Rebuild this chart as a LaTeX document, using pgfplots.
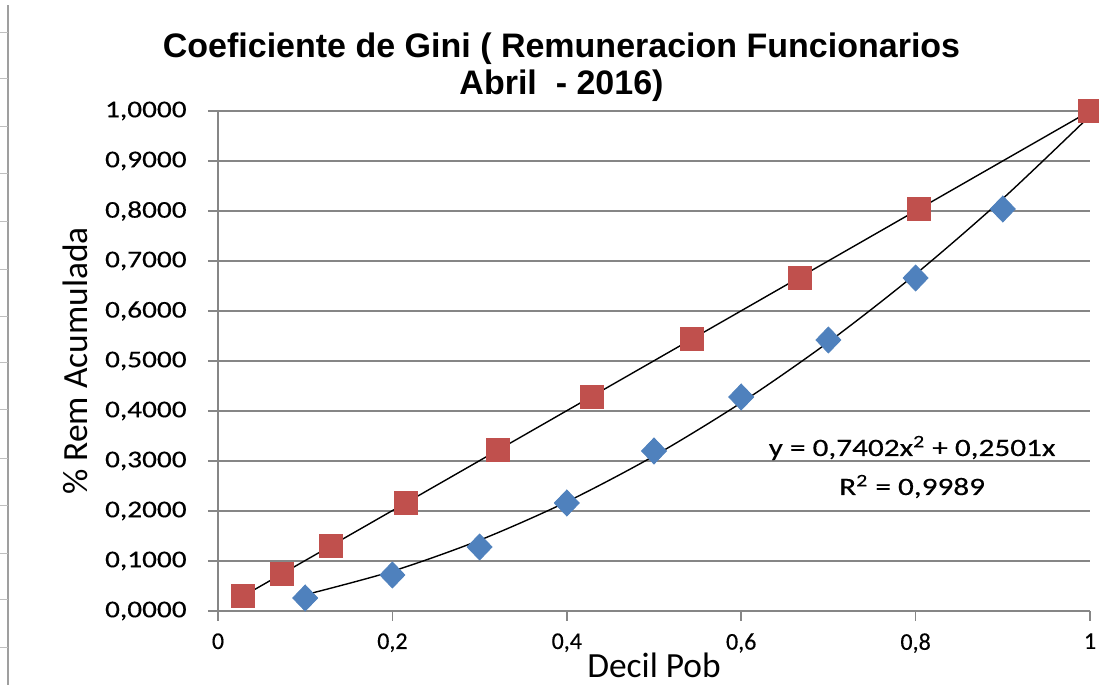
\documentclass[border=0pt]{standalone}
\usepackage{pgfplots}
\pgfplotsset{compat=1.18}
\usepackage{fontspec}
\setmainfont{Carlito}
\newfontfamily\titlefont{Liberation Sans}
\newfontfamily\ytfont{Carlito}[FakeStretch=1.22, FakeBold=0.4]
\newfontfamily\xtfont{Carlito}[FakeBold=0.4]
\newfontfamily\eqfont{Carlito}[FakeStretch=1.25, FakeBold=0.3]
\definecolor{exred}{HTML}{C0504D}
\definecolor{exblue}{HTML}{4F81BD}
\definecolor{gridgray}{HTML}{868686}
\begin{document}
\begin{tikzpicture}
\useasboundingbox (0,0) rectangle (549.5pt,342.5pt);
\fill[white] (0,0) rectangle (549.5pt,342.5pt);
\draw[gray!75, line width=0.8pt] (4pt,0) -- (4pt,340pt);
\foreach \yy in {326,303,279,255.5,231.5,207.5,184,161,137.5,113,89.5,65.5,42.5,18.5}
  \draw[gray!50, line width=0.5pt] (0,\yy pt) -- (4pt,\yy pt);
\begin{axis}[
  at={(109pt,37pt)}, anchor=south west,
  scale only axis, width=436pt, height=250pt,
  xmin=0, xmax=1, ymin=0, ymax=1,
  clip=false,
  axis x line*=bottom, axis y line*=left,
  axis line style={gridgray, line width=0.75pt, -},
  ymajorgrids, grid style={gridgray, line width=0.75pt},
  xtick={0,0.2,0.4,0.6,0.8,1},
  ytick={0,0.1,0.2,0.3,0.4,0.5,0.6,0.7,0.8,0.9,1},
  tick align=outside, major tick length=5pt,
  tick style={gridgray, line width=0.75pt},
  xtick pos=bottom, ytick pos=left,
  /pgf/number format/assume math mode=true,
  yticklabel style={font=\ytfont\fontsize{12}{12}\selectfont, inner sep=0pt, xshift=-10.5pt,
    /pgf/number format/.cd, fixed, fixed zerofill, precision=4, use comma},
  xticklabel style={font=\xtfont\fontsize{12}{12}\selectfont, inner sep=0pt, yshift=-6pt,
    /pgf/number format/.cd, fixed, precision=1, use comma},
  xlabel={Decil Pob},
  xlabel style={font=\fontsize{17.7}{18}\selectfont, at={(axis description cs:0.5,0)}, anchor=base, yshift=-33.5pt},
  ylabel={\% Rem Acumulada},
  ylabel style={font=\fontsize{17.7}{18}\selectfont, at={(axis description cs:-0.150,0.5)}, anchor=base},
]
\addplot[only marks, mark=square*, mark size=5.75pt, mark options={fill=exred, draw=exred}]
  coordinates {(0.029,0.030)(0.073,0.074)(0.130,0.130)(0.216,0.216)(0.321,0.322)(0.429,0.428)(0.543,0.544)(0.667,0.666)(0.804,0.804)(1,1)};
\addplot[only marks, mark=diamond*, mark size=6.5pt, mark options={fill=exblue, draw=exblue, xscale=1.28}]
  coordinates {(0.1,0.026)(0.2,0.072)(0.3,0.128)(0.4,0.216)(0.5,0.320)(0.6,0.428)(0.7,0.542)(0.8,0.666)(0.9,0.804)};
\addplot[black, line width=0.7pt] coordinates {(0.029,0.030)(1,1)};
\addplot[black, line width=0.7pt, smooth] coordinates {(0.1,0.0324)(0.2,0.0796)(0.3,0.1416)(0.4,0.2184)(0.5,0.3101)(0.6,0.4166)(0.7,0.5378)(0.8,0.6738)(0.9,0.8247)(1,0.9903)};
\node[anchor=base, font=\eqfont\fontsize{12.5}{12}\selectfont] at (axis cs:0.796,0.31) {y = 0,7402x\textsuperscript{2} + 0,2501x};
\node[anchor=base, font=\eqfont\fontsize{12.5}{12}\selectfont] at (axis cs:0.796,0.232) {R\textsuperscript{2} = 0,9989};
\end{axis}
\node[anchor=base, font=\titlefont\bfseries\fontsize{17}{18}\selectfont] at (280.75pt,313.5pt) {Coeficiente de Gini ( Remuneracion Funcionarios};
\node[anchor=base, font=\titlefont\bfseries\fontsize{17}{18}\selectfont] at (280.75pt,295pt) {Abril\ \ - 2016)};
\end{tikzpicture}
\end{document}
